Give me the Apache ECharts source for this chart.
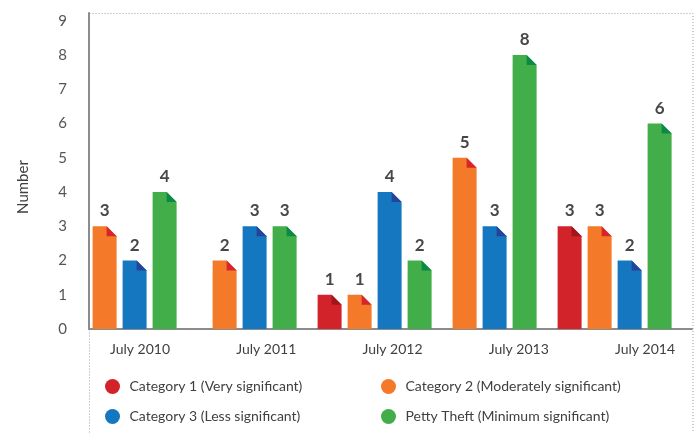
<!DOCTYPE html>
<html>
<head>
<meta charset="utf-8">
<script src="https://cdn.jsdelivr.net/npm/echarts@6/dist/echarts.min.js"></script>
<style>
html,body{margin:0;padding:0;background:#fff;}
#chart{width:695px;height:433px;}
</style>
</head>
<body>
<div id="chart"></div>
<script>
const categories = ['July 2010', 'July 2011', 'July 2012', 'July 2013', 'July 2014'];
const seriesNames = [
  'Category 1 (Very significant)',
  'Category 2 (Moderately significant)',
  'Category 3 (Less significant)',
  'Petty Theft (Minimum significant)'
];
const category1 = [0, 0, 1, 0, 3];
const category2 = [3, 2, 1, 5, 3];
const category3 = [2, 3, 4, 3, 2];
const pettyTheft = [4, 3, 2, 8, 6];
const yTicks = [0, 1, 2, 3, 4, 5, 6, 7, 8, 9];

const allSeries = [category1, category2, category3, pettyTheft];
const colors = ['#d2232a', '#f47a29', '#1477bf', '#42ae4a'];
const foldColors = ['#a0161c', '#d8242b', '#24449c', '#0b8945'];
const FONT = 'Lato, "Open Sans", sans-serif';

const chart = echarts.init(document.getElementById('chart'));

function renderBar(params, api) {
  const ci = api.value(0);
  const v = api.value(1);
  if (!v) return null;
  const s = params.seriesIndex;
  const shown = [];
  allSeries.forEach((arr, i) => { if (arr[ci] > 0) shown.push(i); });
  const k = shown.indexOf(s);
  const n = shown.length;
  const pitch = 30, bw = 24, f = 10;
  const base = api.coord([ci, 0]);
  const top = api.coord([ci, v]);
  const xc = base[0] + (k - (n - 1) / 2) * pitch;
  const l = xc - bw / 2, r = xc + bw / 2, t = top[1], b = base[1];
  return {
    type: 'group',
    children: [
      {
        type: 'polygon',
        shape: { points: [[l, t], [r - f, t], [r, t + f], [r, b], [l, b]] },
        style: { fill: colors[s] }
      },
      {
        type: 'polygon',
        shape: { points: [[r - f, t], [r, t + f], [r - f, t + f]] },
        style: { fill: foldColors[s] }
      },
      {
        type: 'text',
        style: {
          text: String(v), x: xc, y: t - 7,
          align: 'center', verticalAlign: 'bottom',
          font: 'bold 17px ' + FONT, fill: '#474747'
        }
      }
    ]
  };
}

const option = {
  animation: false,
  backgroundColor: '#fff',
  grid: { left: 89, right: 3, top: 13, bottom: 104 },
  graphic: [
    {
      type: 'rect', z: 0,
      shape: { x: 89.5, y: 13.5, width: 603.5, height: 440 },
      style: { fill: 'none', stroke: '#a0a0a0', lineWidth: 1, lineDash: [1, 2] }
    }
  ],
  xAxis: [
    {
      type: 'value', min: -0.38, max: 4.645,
      axisLine: { show: true, onZero: false, lineStyle: { color: '#8c8c8c', width: 2 } },
      axisTick: { show: false }, axisLabel: { show: false }, splitLine: { show: false }
    },
    {
      type: 'value', min: -0.404, max: 4.372, position: 'bottom',
      axisLine: { show: false }, axisTick: { show: false }, splitLine: { show: false },
      axisLabel: {
        customValues: [0, 1, 2, 3, 4],
        formatter: v => categories[Math.round(v)],
        margin: 13, fontSize: 14, color: '#404040', fontFamily: FONT
      }
    }
  ],
  yAxis: {
    type: 'value', min: 0, max: 9.23,
    name: 'Number', nameLocation: 'middle', nameRotate: 90, nameGap: 58,
    nameTextStyle: { fontSize: 15, color: '#404040', fontFamily: FONT, padding: [0, 32, 0, 0] },
    axisLine: { show: true, onZero: false, lineStyle: { color: '#8c8c8c', width: 2 } },
    axisTick: { show: false }, splitLine: { show: false },
    axisLabel: { customValues: yTicks, margin: 22, fontSize: 15, color: '#555', fontFamily: FONT }
  },
  legend: [
    {
      data: [seriesNames[0], seriesNames[2]],
      orient: 'vertical', left: 100, top: 374, itemWidth: 24, itemHeight: 15, itemGap: 15,
      icon: 'circle', textStyle: { fontSize: 14, color: '#404040', fontFamily: FONT }
    },
    {
      data: [seriesNames[1], seriesNames[3]],
      orient: 'vertical', left: 376, top: 374, itemWidth: 24, itemHeight: 15, itemGap: 15,
      icon: 'circle', textStyle: { fontSize: 14, color: '#404040', fontFamily: FONT }
    }
  ],
  series: allSeries.map((arr, s) => ({
    type: 'custom',
    name: seriesNames[s],
    xAxisIndex: 0, yAxisIndex: 0,
    itemStyle: { color: colors[s] },
    encode: { x: 0, y: 1 },
    data: categories.map((c, i) => [i, arr[i]]),
    renderItem: renderBar
  }))
};
chart.setOption(option);
</script>
</body>
</html>
